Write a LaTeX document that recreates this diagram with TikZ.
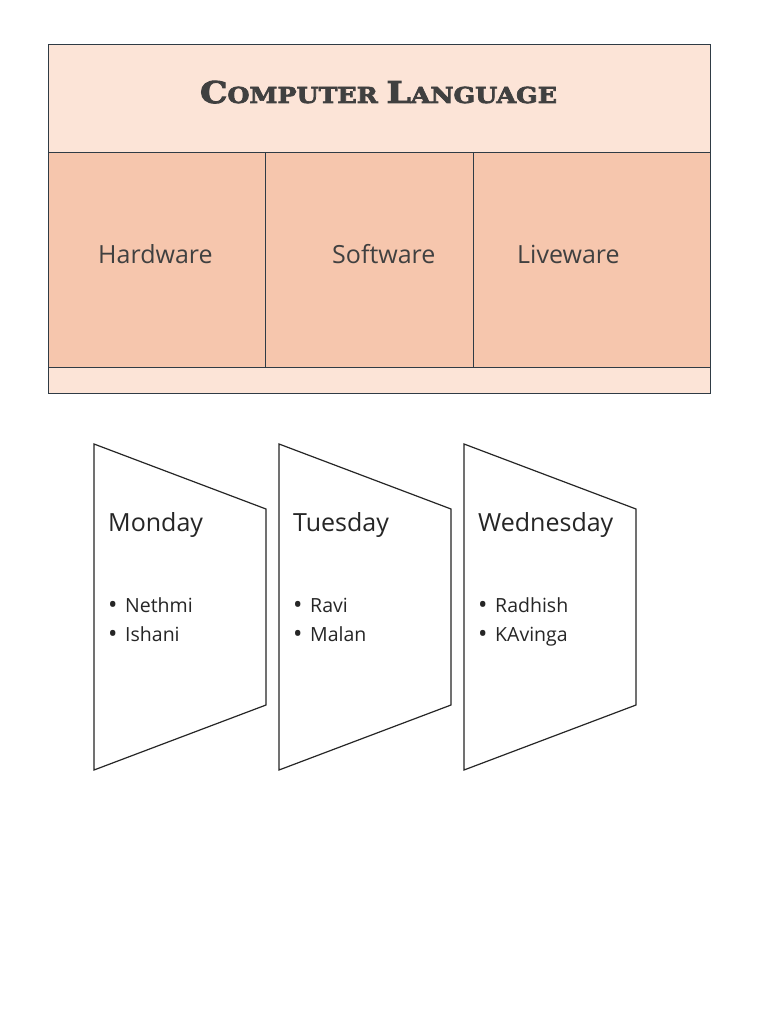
\documentclass[tikz,border=0pt]{standalone}
\usepackage{fontspec}
\setmainfont{Open Sans}
\newfontfamily\titlefont[FakeBold=3]{DejaVu Serif Bold}
\definecolor{titlebg}{HTML}{FCE4D7}
\definecolor{cellbg}{HTML}{F6C6AD}
\definecolor{frame}{HTML}{2F3B45}
\definecolor{txt}{HTML}{404040}
\tikzset{
  cellbox/.style={draw=frame, line width=1pt},
  celltext/.style={anchor=base west, inner sep=0pt, text=txt, font=\fontsize{25}{28}\selectfont},
  trap/.style={draw=black!85, line width=1.2pt, fill=white},
  daytext/.style={anchor=base west, inner sep=0pt, text=black!85, font=\fontsize{25}{28}\selectfont},
  itemtext/.style={anchor=base west, inner sep=0pt, text=black!85, font=\fontsize{19.5}{22}\selectfont, align=left},
}
\newcommand\bul{\makebox[17pt][l]{\raisebox{-1.5pt}{\fontsize{25}{25}\selectfont\textbullet}}}
\begin{document}
\begin{tikzpicture}[x=1pt,y=-1pt]
\useasboundingbox (0,0) rectangle (768,1024);
\fill[white] (0,0) rectangle (768,1024);
% table
\fill[titlebg] (48,45) rectangle (710,393);
\fill[cellbg] (48,153) rectangle (710,367);
\draw[cellbox] (48,45) rectangle (710,393);
\draw[cellbox] (48,153) -- (710,153);
\draw[cellbox] (48,367) -- (710,367);
\draw[cellbox] (265,153) -- (265,367);
\draw[cellbox] (473,153) -- (473,367);
\node[anchor=base, inner sep=0pt, text=txt, xscale=1.15, transform shape] (title) at (378.5,103)
  {\titlefont\fontsize{30}{33}\selectfont C\fontsize{22}{25}\selectfont OMPUTER \fontsize{30}{33}\selectfont L\fontsize{22}{25}\selectfont ANGUAGE};
\node[celltext] (hw) at (98,263) {Hardware};
\node[celltext] (sw) at (332,263) {Software};
\node[celltext] (lw) at (517,263) {Liveware};
% trapezoids
\foreach \x/\n in {94/mon,279/tue,464/wed}{
  \draw[trap] (\x,444) coordinate (\n tl) -- (\x+172,509) coordinate (\n tr)
     -- (\x+172,705) coordinate (\n br) -- (\x,770) coordinate (\n bl) -- cycle;
}
\node[daytext] (monday) at (108,531) {Monday};
\node[daytext] (tuesday) at (293,531) {Tuesday};
\node[daytext] (wednesday) at (478,531) {Wednesday};
\node[itemtext] (mon1) at (108,612) {\bul Nethmi};
\node[itemtext] (mon2) at (108,641) {\bul Ishani};
\node[itemtext] (tue1) at (293,612) {\bul Ravi};
\node[itemtext] (tue2) at (293,641) {\bul Malan};
\node[itemtext] (wed1) at (478,612) {\bul Radhish};
\node[itemtext] (wed2) at (478,641) {\bul KAvinga};
\end{tikzpicture}
\end{document}
